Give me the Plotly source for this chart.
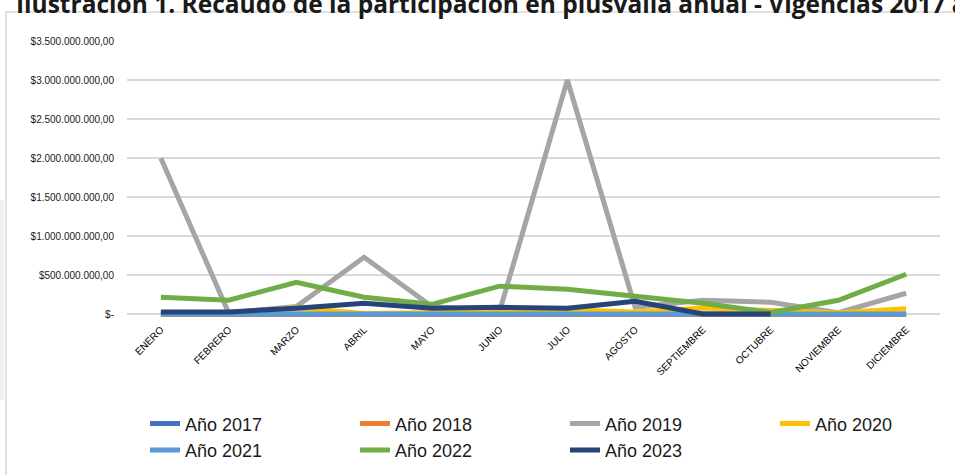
import plotly.graph_objects as go

meses = ["ENERO", "FEBRERO", "MARZO", "ABRIL", "MAYO", "JUNIO", "JULIO",
         "AGOSTO", "SEPTIEMBRE", "OCTUBRE", "NOVIEMBRE", "DICIEMBRE"]

anio_2017 = [0, 0, 0, 0, 0, 0, 0, 0, 0, 0, 0, 0]
anio_2018 = [0, 0, 5e6, 0, 0, 0, 0, 5e6, 0, 0, 0, 0]
anio_2019 = [2.0e9, 20e6, 100e6, 730e6, 100e6, 40e6, 3.0e9, 90e6, 180e6, 155e6, 20e6, 270e6]
anio_2020 = [10e6, 10e6, 85e6, 10e6, 20e6, 40e6, 60e6, 30e6, 80e6, 50e6, 20e6, 70e6]
anio_2021 = [3e6, 3e6, 5e6, 3e6, 3e6, 3e6, 3e6, 3e6, 3e6, 3e6, 3e6, 3e6]
anio_2022 = [218e6, 180e6, 410e6, 218e6, 128e6, 360e6, 320e6, 230e6, 141e6, 25e6, 180e6, 513e6]
anio_2023 = [30e6, 30e6, 77e6, 141e6, 77e6, 90e6, 77e6, 167e6, 5e6, 5e6, None, None]

series = [
    ("Año 2017", anio_2017, "#4472C4"),
    ("Año 2018", anio_2018, "#ED7D31"),
    ("Año 2019", anio_2019, "#A5A5A5"),
    ("Año 2020", anio_2020, "#FFC000"),
    ("Año 2021", anio_2021, "#5B9BD5"),
    ("Año 2022", anio_2022, "#70AD47"),
    ("Año 2023", anio_2023, "#264478"),
]

tick_vals = [0, 5e8, 1e9, 1.5e9, 2e9, 2.5e9, 3e9, 3.5e9]
tick_text = ["$-", "$500.000.000,00", "$1.000.000.000,00", "$1.500.000.000,00",
             "$2.000.000.000,00", "$2.500.000.000,00", "$3.000.000.000,00",
             "$3.500.000.000,00"]

W, H = 955, 475
L, R, T, B = 127, 940, 41, 318.7


def px_x(p):
    return (p - L) / (R - L)


def px_y(p):
    return (B - p) / (B - T)


fig = go.Figure()
for name, vals, color in series:
    fig.add_trace(go.Scatter(
        x=meses, y=vals, name=name, mode="lines",
        line=dict(color=color, width=5),
        connectgaps=False,
    ))

fig.update_layout(
    width=W, height=H,
    margin=dict(l=L, r=W - R, t=T, b=H - B, pad=0, autoexpand=False),
    paper_bgcolor="white", plot_bgcolor="white",
    font=dict(family="Liberation Sans, Arial, sans-serif", color="#1a1a1a"),
    showlegend=True,
    legend=dict(
        orientation="h", x=px_x(125), y=px_y(405), xanchor="left", yanchor="top",
        font=dict(size=18, color="#1a1a1a"),
        entrywidth=145, entrywidthmode="pixels",
        itemwidth=30, tracegroupgap=0, indentation=20,
        bgcolor="rgba(0,0,0,0)",
    ),
    xaxis=dict(
        type="category", range=[-0.5, 11.5],
        showgrid=False, zeroline=False, showline=False,
        tickangle=-45, tickfont=dict(size=10, color="#000000"),
        ticks="", ticklabelstandoff=2,
    ),
    yaxis=dict(
        range=[-0.06e9, 3.5e9],
        tickvals=tick_vals, ticktext=tick_text,
        showgrid=True, gridcolor="#D9D9D9", gridwidth=1.5,
        zeroline=False, showline=False,
        tickfont=dict(size=10, color="#1a1a1a"),
        ticks="", ticklabelstandoff=12,
    ),
    shapes=[
        dict(type="rect", xref="paper", yref="paper",
             x0=px_x(6), x1=px_x(1000), y0=px_y(520), y1=px_y(12),
             line=dict(color="#D9D9D9", width=1.5), fillcolor="rgba(0,0,0,0)",
             layer="below"),
        dict(type="rect", xref="paper", yref="paper",
             x0=px_x(0), x1=px_x(4), y0=px_y(400), y1=px_y(200),
             line=dict(width=0), fillcolor="#F0F0F0", layer="below"),
    ],
    annotations=[
        dict(text="<b>Ilustración 1. Recaudo de la participación en plusvalía anual - Vigencias 2017 a 2023</b>",
             xref="paper", yref="paper", x=px_x(14), y=px_y(22),
             xanchor="left", yanchor="bottom", showarrow=False,
             font=dict(family="Open Sans, sans-serif", size=24.5, color="#1a1a1a")),
    ],
)

fig.write_html("out.html",
               config={"displayModeBar": False},
               post_script="document.body.style.margin='0';document.body.style.overflow='hidden';")
